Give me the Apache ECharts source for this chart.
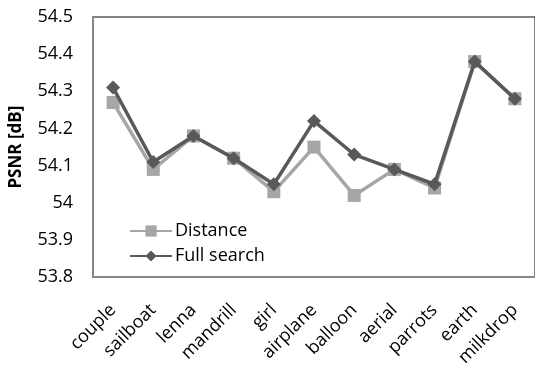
<!DOCTYPE html>
<html>
<head>
<meta charset="utf-8">
<script src="https://cdn.jsdelivr.net/npm/echarts@6/dist/echarts.min.js"></script>
<style>html,body{margin:0;padding:0;background:#fff;}#c{width:535px;height:369px;}</style>
</head>
<body>
<div id="c"></div>
<script>
var categories = ['couple','sailboat','lenna','mandrill','girl','airplane','balloon','aerial','parrots','earth','milkdrop'];
var distance = [54.27,54.09,54.18,54.12,54.03,54.15,54.02,54.09,54.04,54.38,54.28];
var fullSearch = [54.31,54.11,54.18,54.12,54.05,54.22,54.13,54.09,54.05,54.38,54.28];
var yTicks = ['53.8','53.9','54','54.1','54.2','54.3','54.4','54.5'];

var FONT = '"Open Sans", sans-serif';
var chart = echarts.init(document.getElementById('c'), null, {renderer:'canvas'});
chart.setOption({
  animation: false,
  backgroundColor: '#fff',
  grid: {left: 92, top: 17, right: -3, bottom: 88, show: true, borderColor: '#595959', borderWidth: 1.5, backgroundColor: 'transparent'},
  legend: {
    orient: 'vertical', left: 124, top: 217, itemGap: 7, itemWidth: 42, itemHeight: 14,
    textStyle: {fontFamily: FONT, fontSize: 18, color: '#000', padding: [0,0,0,-2]},
    data: ['Distance','Full search']
  },
  xAxis: {
    type: 'category', data: categories, boundaryGap: true,
    axisLine: {show: true, lineStyle: {color: '#888', width: 2}},
    axisTick: {show: false},
    axisLabel: {rotate: 45, interval: 0, margin: 30, fontFamily: FONT, fontSize: 18, color: '#000'}
  },
  yAxis: {
    type: 'value', min: 53.8, max: 54.5, interval: 0.1,
    name: 'PSNR [dB]', nameLocation: 'middle', nameGap: 68, nameRotate: 90,
    nameTextStyle: {fontFamily: FONT, fontSize: 17, fontWeight: 'bold', color: '#000'},
    axisLine: {show: true, lineStyle: {color: '#888', width: 1.5}},
    axisTick: {show: false},
    splitLine: {show: false},
    axisLabel: {margin: 20, fontFamily: FONT, fontSize: 18, color: '#000',
      formatter: function(v){ var s = (Math.round(v*10)/10).toString(); return yTicks.indexOf(s) >= 0 ? s : ''; }}
  },
  series: [
    {name: 'Distance', type: 'line', data: distance, symbol: 'rect', symbolSize: 13,
      lineStyle: {color: '#a6a6a6', width: 3.5}, itemStyle: {color: '#a6a6a6'}, z: 2},
    {name: 'Full search', type: 'line', data: fullSearch, symbol: 'diamond', symbolSize: 14,
      lineStyle: {color: '#595959', width: 3.5}, itemStyle: {color: '#595959'}, z: 3}
  ]
});
</script>
</body>
</html>
